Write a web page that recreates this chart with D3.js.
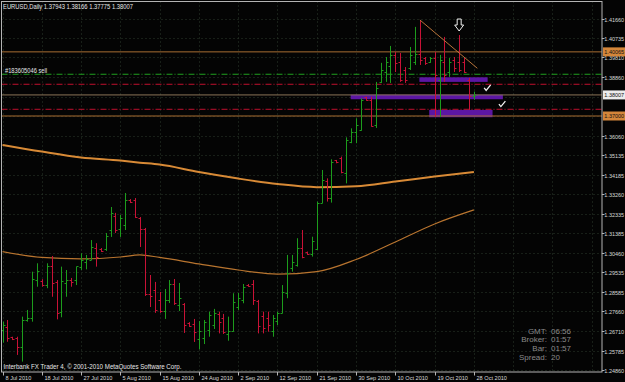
<!DOCTYPE html>
<html><head><meta charset="utf-8">
<script src="https://cdn.jsdelivr.net/npm/d3@7"></script>
<style>html,body{margin:0;padding:0;background:#000;}svg{display:block;}</style>
</head><body>
<svg id="c" width="625" height="382"></svg>
<script>
const dateLabels = ["8 Jul 2010","18 Jul 2010","27 Jul 2010","5 Aug 2010","15 Aug 2010","24 Aug 2010","2 Sep 2010","12 Sep 2010","21 Sep 2010","30 Sep 2010","10 Oct 2010","19 Oct 2010","28 Oct 2010"];
const priceTicks = [1.41660,1.40735,1.39810,1.38860,1.37930,1.36985,1.36060,1.35135,1.34185,1.33260,1.32335,1.31385,1.30460,1.29535,1.28585,1.27660,1.26710,1.25785,1.24860];
const hiddenTicks = [1.37930,1.36985];
const openP = [1.2677,1.2692,1.2642,1.2638,1.2597,1.2725,1.2733,1.2916,1.2911,1.2892,
 1.2985,1.2907,1.2765,1.2900,1.2916,1.2916,1.2980,1.3004,1.3012,1.3068,
 1.3064,1.3064,1.3155,1.3222,1.3160,1.3179,1.3299,1.3299,1.3213,1.3160,
 1.2849,1.2868,1.2821,1.2768,1.2821,1.2897,1.2797,1.2802,1.2711,1.2706,
 1.2634,1.2639,1.2677,1.2701,1.2754,1.2735,1.2658,1.2672,1.2787,1.2821,
 1.2892,1.2897,1.2816,1.2744,1.2735,1.2672,1.2720,1.2759,1.2854,1.2974,
 1.2988,1.3069,1.3050,1.3041,1.3064,1.3284,1.3389,1.3308,1.3488,1.3499,
 1.3428,1.3576,1.3624,1.3633,1.3791,1.3777,1.3657,1.3863,1.3910,1.3939,
 1.3992,1.3958,1.3920,1.3930,1.3958,1.3997,1.3977,1.3958,1.3977,1.3872,
 1.3958,1.3910,1.3968,1.3958,1.3958,1.3872,1.37943];
const highP = [1.2717,1.2725,1.2645,1.2645,1.2741,1.2773,1.2956,1.2996,1.2920,1.2996,
 1.3031,1.2916,1.2980,1.2964,1.2926,1.2980,1.3044,1.3036,1.3107,1.3092,
 1.3069,1.3141,1.3265,1.3237,1.3227,1.3332,1.3303,1.3308,1.3217,1.3165,
 1.2940,1.2907,1.2859,1.2873,1.2916,1.2921,1.2902,1.2806,1.2715,1.2730,
 1.2720,1.2725,1.2765,1.2778,1.2765,1.2754,1.2741,1.2853,1.2854,1.2897,
 1.2897,1.2916,1.2821,1.2765,1.2765,1.2749,1.2765,1.2892,1.3036,1.3036,
 1.3116,1.3155,1.3052,1.3123,1.3291,1.3442,1.3402,1.3493,1.3490,1.3506,
 1.3598,1.3641,1.3689,1.3785,1.3792,1.3792,1.3863,1.3954,1.3982,1.4035,
 1.4006,1.4001,1.3934,1.4030,1.4126,1.4159,1.3982,1.3982,1.4006,1.3992,
 1.4078,1.3977,1.3982,1.4087,1.3977,1.3882,1.38166];
const lowP = [1.2617,1.2621,1.2629,1.2558,1.2526,1.2717,1.2717,1.2884,1.2884,1.2877,
 1.2836,1.2728,1.2738,1.2836,1.2884,1.2892,1.2964,1.2967,1.3012,1.2980,
 1.3050,1.3055,1.3122,1.3141,1.3122,1.3155,1.3284,1.3213,1.3074,1.2840,
 1.2787,1.2759,1.2759,1.2730,1.2806,1.2797,1.2768,1.2663,1.2692,1.2620,
 1.2585,1.2610,1.2645,1.2682,1.2661,1.2658,1.2626,1.2669,1.2773,1.2805,
 1.2884,1.2797,1.2661,1.2661,1.2669,1.2645,1.2701,1.2757,1.2829,1.2956,
 1.2980,1.3020,1.3036,1.3028,1.3060,1.3283,1.3291,1.3286,1.3474,1.3426,
 1.3378,1.3570,1.3570,1.3630,1.3773,1.3649,1.3643,1.3858,1.3863,1.3858,
 1.3910,1.3863,1.3858,1.3920,1.3944,1.3944,1.3944,1.3954,1.3695,1.3695,
 1.3863,1.3887,1.3910,1.3910,1.3906,1.3729,1.37775];
const closeP = [1.2701,1.2639,1.2636,1.2597,1.2725,1.2735,1.2920,1.2961,1.2892,1.2985,
 1.2903,1.2760,1.2913,1.2916,1.2908,1.2983,1.3012,1.3015,1.3075,1.3028,
 1.3055,1.3127,1.3237,1.3155,1.3213,1.3299,1.3289,1.3217,1.3160,1.2849,
 1.2840,1.2773,1.2768,1.2821,1.2897,1.2806,1.2830,1.2701,1.2696,1.2668,
 1.2672,1.2715,1.2749,1.2759,1.2715,1.2668,1.2672,1.2811,1.2830,1.2883,
 1.2888,1.2821,1.2696,1.2687,1.2701,1.2735,1.2759,1.2859,1.2950,1.3002,
 1.3069,1.3026,1.3041,1.3103,1.3284,1.3394,1.3308,1.3480,1.3478,1.3432,
 1.3585,1.3624,1.3657,1.3777,1.3777,1.3652,1.3834,1.3920,1.3958,1.3992,
 1.3954,1.3872,1.3872,1.3992,1.3997,1.3968,1.3954,1.3977,1.3896,1.3968,
 1.3896,1.3958,1.3930,1.3920,1.3910,1.3796,1.38007];
const maBars = [0,8,16,24,28,32,40,48,56,64,72,80,88,96];
const maSlow = [1.3562,1.3530,1.3502,1.3487,1.3477,1.3468,1.3432,1.3401,1.3375,1.3360,1.3364,1.3387,1.3411,1.3432];
const maFast = [1.3052,1.3024,1.3017,1.3026,1.3036,1.3024,1.2993,1.2964,1.2944,1.2956,1.3014,1.3098,1.3184,1.3251];
const orangeLevels = [1.40065, 1.37000];
const bidPrice = 1.38007;
const orderPrice = 1.38995;
const redLevels = [1.38516, 1.37321];
const boxBars0 = [84.9, 70.9, 86.9];
const boxBars1 = [98.8, 101.9, 99.8];
const boxLow = [1.3863, 1.3780, 1.3694];
const boxHigh = [1.3885, 1.3802, 1.3729];
const trendBars = [85, 96.7];
const trendPrices = [1.4159, 1.3928];
const checkBars = [98.7, 101.7];
const checkPrices = [1.3834, 1.3757];
const arrowBar = 93, arrowPrice = 1.4087;
const infoLabels = ["GMT:","Broker:","Bar:","Spread:"];
const infoValues = ["06:56","01:57","01:57","20"];

const svg = d3.select("#c");
const L = 1.5, R = 602, T = 1.5, B = 372;
const x = d3.scaleLinear().domain([0, 96]).range([2.5, 473.9]);
const y = d3.scaleLinear().domain([1.2486, 1.4166]).range([370, 18.5]);
const font = "'Liberation Sans', Arial, sans-serif";

svg.append("rect").attr("width",625).attr("height",382).attr("fill","#040404");
svg.append("defs").append("clipPath").attr("id","plot").append("rect")
  .attr("x",L).attr("y",T).attr("width",R-L).attr("height",B-T);
const g = svg.append("g").attr("clip-path","url(#plot)");

// grid
const grid = g.append("g").attr("stroke","#2c3b2c").attr("stroke-dasharray","1,3").attr("stroke-width",1);
priceTicks.forEach(v => grid.append("line").attr("x1",L).attr("x2",R)
  .attr("y1",Math.round(y(v))+0.5).attr("y2",Math.round(y(v))+0.5));
d3.range(0, 125, 8).forEach(i => grid.append("line")
  .attr("x1",Math.round(x(i))+0.5).attr("x2",Math.round(x(i))+0.5).attr("y1",T).attr("y2",B));

// rectangles (behind bars)
boxLow.forEach((v,k) => g.append("rect")
  .attr("x", x(boxBars0[k])).attr("width", x(boxBars1[k]) - x(boxBars0[k]))
  .attr("y", y(boxHigh[k])).attr("height", y(boxLow[k]) - y(boxHigh[k]))
  .attr("fill","#5c16a3"));

// horizontal levels
orangeLevels.forEach(v => g.append("line").attr("x1",L).attr("x2",R)
  .attr("y1",y(v)).attr("y2",y(v)).attr("stroke","#a86e32").attr("stroke-width",1));
g.append("line").attr("x1",L).attr("x2",R).attr("y1",y(bidPrice)).attr("y2",y(bidPrice))
  .attr("stroke","#8c7458").attr("stroke-width",1);
g.append("line").attr("x1",L).attr("x2",R).attr("y1",y(orderPrice)).attr("y2",y(orderPrice))
  .attr("stroke","#1f9e1f").attr("stroke-width",1).attr("stroke-dasharray","6,2,1,2");
redLevels.forEach(v => g.append("line").attr("x1",L).attr("x2",R)
  .attr("y1",y(v)).attr("y2",y(v)).attr("stroke","#c0102e").attr("stroke-width",1).attr("stroke-dasharray","6,2,1,2"));

// moving averages
const maLine = d3.line().x((d,i)=>x(maBars[i])).y(d=>y(d)).curve(d3.curveMonotoneX);
g.append("path").attr("d", maLine(maSlow)).attr("fill","none").attr("stroke","#d88a36").attr("stroke-width",2);
g.append("path").attr("d", maLine(maFast)).attr("fill","none").attr("stroke","#b8742f").attr("stroke-width",1.2);

// OHLC bars
const bars = g.append("g");
openP.forEach((o,i) => {
  const up = closeP[i] >= o;
  const col = up ? "#1c9c1c" : "#c81236";
  const cx = Math.round(x(i)) + 0.5;
  bars.append("line").attr("x1",cx).attr("x2",cx).attr("y1",y(highP[i])).attr("y2",y(lowP[i]))
    .attr("stroke",col).attr("stroke-width",1);
  bars.append("line").attr("x1",cx-2).attr("x2",cx).attr("y1",Math.round(y(o))+0.5).attr("y2",Math.round(y(o))+0.5)
    .attr("stroke",col).attr("stroke-width",1);
  bars.append("line").attr("x1",cx).attr("x2",cx+2).attr("y1",Math.round(y(closeP[i]))+0.5).attr("y2",Math.round(y(closeP[i]))+0.5)
    .attr("stroke",col).attr("stroke-width",1);
});

// trend line
g.append("line").attr("x1",x(trendBars[0])).attr("y1",y(trendPrices[0]))
  .attr("x2",x(trendBars[1])).attr("y2",y(trendPrices[1])).attr("stroke","#b8733a").attr("stroke-width",1);

// arrow (hollow, pointing down)
const ax = x(arrowBar), ay = y(arrowPrice) - 4;
g.append("path").attr("d",
  `M${ax-2},${ay-12} L${ax+2},${ay-12} L${ax+2},${ay-6} L${ax+4.5},${ay-6} L${ax},${ay} L${ax-4.5},${ay-6} L${ax-2},${ay-6} Z`)
  .attr("fill","none").attr("stroke","#f0f0f0").attr("stroke-width",1);

// check marks
checkBars.forEach((b,k) => g.append("path")
  .attr("d", `M${x(b)-3},${y(checkPrices[k])} L${x(b)-1},${y(checkPrices[k])+2.5} L${x(b)+3.5},${y(checkPrices[k])-3}`)
  .attr("fill","none").attr("stroke","#f0f0f0").attr("stroke-width",1.3));

// texts inside plot
svg.append("text").attr("x",3).attr("y",8.5).attr("fill","#e6e6e6").attr("font-family",font).attr("font-size",7)
  .attr("textLength",130).attr("lengthAdjust","spacingAndGlyphs")
  .text("EURUSD,Daily  1.37943 1.38166 1.37775 1.38007");
svg.append("text").attr("x",5).attr("y",73).attr("fill","#e6e6e6").attr("font-family",font).attr("font-size",6.5)
  .attr("textLength",42).attr("lengthAdjust","spacingAndGlyphs").text("#183605046 sell");
svg.append("text").attr("x",3.5).attr("y",368.5).attr("fill","#e6e6e6").attr("font-family",font).attr("font-size",7)
  .attr("textLength",178).attr("lengthAdjust","spacingAndGlyphs")
  .text("Interbank FX Trader 4, \u00a9 2001-2010 MetaQuotes Software Corp.");
const infoY = [333.5, 342, 350.5, 360];
infoLabels.forEach((t,k) => {
  svg.append("text").attr("x",547).attr("y",infoY[k]).attr("text-anchor","end").attr("fill","#8a8a8a")
    .attr("font-family",font).attr("font-size",8).text(t);
  svg.append("text").attr("x",551).attr("y",infoY[k]).attr("fill","#8a8a8a")
    .attr("font-family",font).attr("font-size",8).text(infoValues[k]);
});

// frame
svg.append("rect").attr("x",L).attr("y",T).attr("width",R-L).attr("height",B-T)
  .attr("fill","none").attr("stroke","#b4b4b4").attr("stroke-width",1);

// price axis
priceTicks.filter(v => !hiddenTicks.includes(v)).forEach(v => {
  const yy = Math.round(y(v)) + 0.5;
  svg.append("line").attr("x1",R).attr("x2",R+2.5).attr("y1",yy).attr("y2",yy).attr("stroke","#b4b4b4");
  svg.append("text").attr("x",604.3).attr("y",yy+2.2).attr("fill","#d8d8d8").attr("font-family",font)
    .attr("font-size",5.5).text(v.toFixed(5));
});
const tags = [[1.40065,"#d4863a"],[bidPrice,"#ececec"],[1.37000,"#d4863a"]];
tags.forEach(([v,c]) => {
  const yy = y(v);
  svg.append("rect").attr("x",603).attr("y",yy-4.5).attr("width",22).attr("height",9).attr("fill",c);
  svg.append("text").attr("x",604.3).attr("y",yy+2.2).attr("fill","#111").attr("font-family",font)
    .attr("font-size",5.5).text(v.toFixed(5));
});

// date axis
dateLabels.forEach((t,k) => {
  const xx = Math.round(x(k*8)) + 0.5;
  svg.append("line").attr("x1",xx).attr("x2",xx).attr("y1",B).attr("y2",B+3.5).attr("stroke","#b4b4b4");
  svg.append("text").attr("x",xx+2).attr("y",380).attr("fill","#d8d8d8").attr("font-family",font)
    .attr("font-size",5.6).text(t);
});
</script>
</body></html>
